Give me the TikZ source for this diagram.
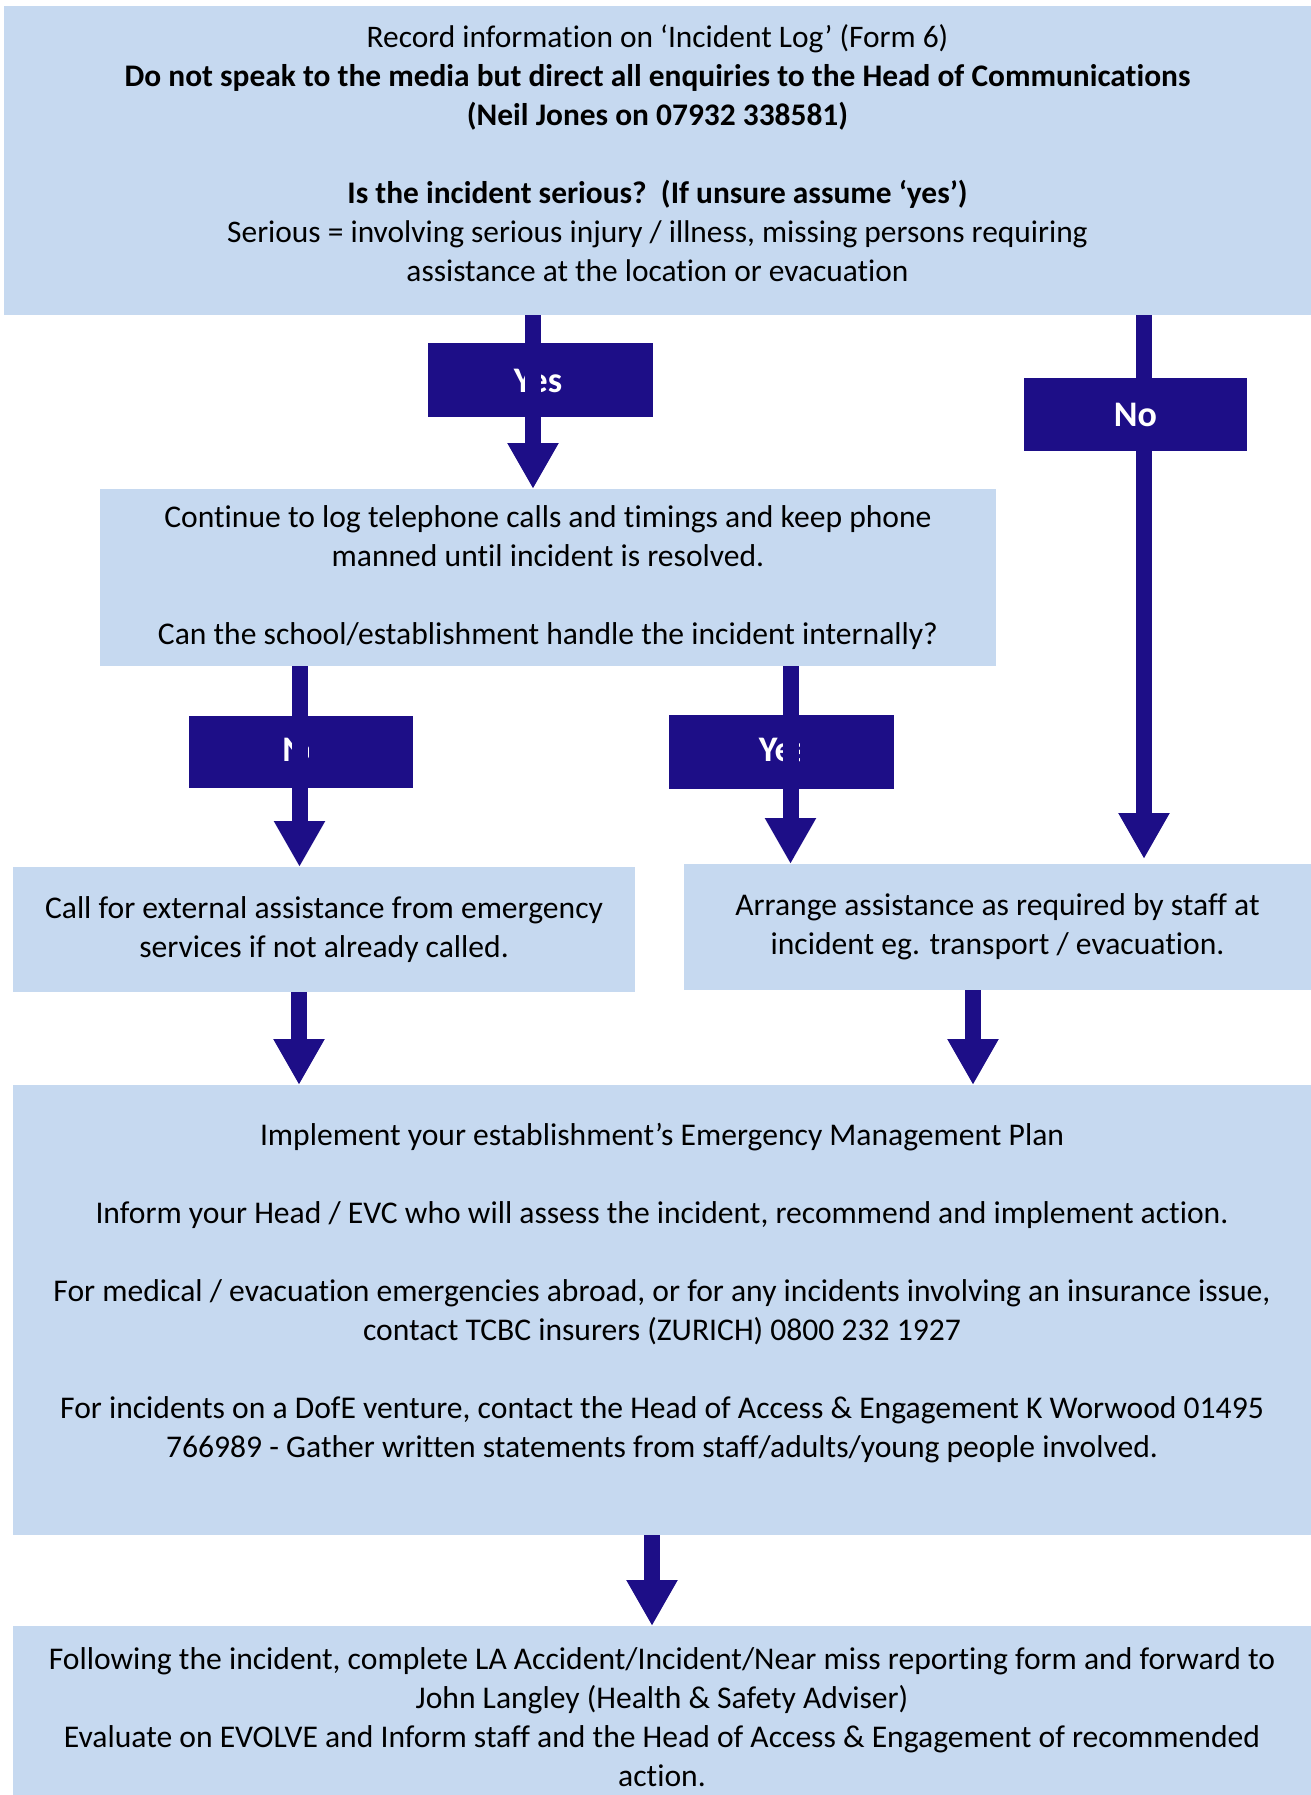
\documentclass[tikz,border=0pt]{standalone}
\usepackage{fontspec}
\setmainfont{Carlito}[Ligatures=NoCommon]
\usetikzlibrary{arrows.meta}
\definecolor{boxblue}{RGB}{198,217,240}
\definecolor{navy}{RGB}{29,14,135}

\begin{document}
\begin{tikzpicture}[x=0.5pt,y=-0.5pt]
	\tikzset{box/.style = {fill=boxblue,inner sep=0pt,outer sep=0pt,align=center,
			font=\fontsize{15.8}{19.5}\selectfont}}
	\tikzset{tag/.style = {fill=navy,inner sep=0pt,outer sep=0pt,
			minimum width=112.5pt,minimum height=37pt}}
	\tikzset{tagtext/.style = {text=white,inner sep=0pt,font=\fontsize{18}{20}\selectfont\bfseries}}
	\tikzset{flow/.style = {draw=navy,line width=8pt,-{Triangle[length=23pt,width=24pt]},navy}}
    \useasboundingbox (0,0) rectangle (1311,1795);
    % boxes
    \node[box,minimum width=653.5pt,minimum height=154.5pt,font=\fontsize{15.7}{19.5}\selectfont]
    	(top) at (657.5,160.5) {Record information on ‘Incident Log’ (Form 6)\\
    	\textbf{Do not speak to the media but direct all enquiries to the Head of Communications}\\
    	\textbf{(Neil Jones on 07932 338581)}\\ \mbox{}\\
    	\textbf{Is the incident serious?\ \ (If unsure assume ‘yes’)}\\
    	Serious = involving serious injury / illness, missing persons requiring\\
    	assistance at the location or evacuation\\[-12pt]\mbox{}};
    \node[box,minimum width=448pt,minimum height=88.5pt] (cont) at (548,577.5)
    	{Continue to log telephone calls and timings and keep phone\\
    	manned until incident is resolved.\\ \mbox{}\\
    	Can the school/establishment handle the incident internally?};
    \node[box,minimum width=311pt,minimum height=62.5pt] (call) at (324,929.5)
    	{Call for external assistance from emergency\\ services if not already called.};
    \node[box,minimum width=313.5pt,minimum height=63pt] (arr) at (997.5,927)
    	{Arrange assistance as required by staff at\\ incident eg. transport / evacuation.};
    \node[box,minimum width=649pt,minimum height=225pt] (plan) at (662,1310)
    	{Implement your establishment’s Emergency Management Plan\\ \mbox{}\\
    	Inform your Head / EVC who will assess the incident, recommend and implement action.\\ \mbox{}\\
    	For medical / evacuation emergencies abroad, or for any incidents involving an insurance issue,\\
    	contact TCBC insurers (ZURICH) 0800 232 1927\\ \mbox{}\\
    	For incidents on a DofE venture, contact the Head of Access \& Engagement K Worwood 01495\\
    	766989 - Gather written statements from staff/adults/young people involved.\\ \mbox{}};
    \node[box,minimum width=649pt,minimum height=91pt] (after) at (662,1717)
    	{Following the incident, complete LA Accident/Incident/Near miss reporting form and forward to\\
    	John Langley (Health \& Safety Adviser)\\
    	Evaluate on EVOLVE and Inform staff and the Head of Access \& Engagement of recommended\\
    	action.};
    % arrow lines
    \coordinate (x1) at (533,0);
    \coordinate (x2) at (1144,0);
    \coordinate (x3) at (299.5,0);
    \coordinate (x4) at (790.5,0);
    \coordinate (x5) at (299,0);
    \coordinate (x6) at (973,0);
    \coordinate (x7) at (652,0);
    % labels and edges
    \node[tag] (yes1) at (540.5,380) {};
    \node[tagtext] (yes1t) at (538,381) {Yes};
    \draw[flow] (x1 |- top.south) -- (x1 |- cont.north);
    \draw[flow,shorten >=2.5pt] (x2 |- top.south) -- (x2 |- arr.north);
    \node[tag,minimum width=111.5pt,minimum height=36.5pt] (no1) at (1135.5,414.5) {};
    \node[tagtext] (no1t) at (no1) {No};
    \node[tag,minimum width=112pt,minimum height=36pt] (no2) at (301,752) {};
    \node[tag] (yes2) at (781.5,752) {};
    \begin{scope}
    	\clip (no2.north west) rectangle (308,788);
    	\node[tagtext] (no2t) at (304,750) {No};
    \end{scope}
    \begin{scope}
    	\clip (yes2.north west) rectangle (799,789);
    	\node[tagtext] (yes2t) at (783,750) {Yes};
    \end{scope}
    \draw[flow] (x3 |- cont.south) -- (x3 |- call.north);
    \draw[flow] (x4 |- cont.south) -- (x4 |- arr.north);
    \draw[flow] (x5 |- call.south) -- (x5 |- plan.north);
    \draw[flow] (x6 |- arr.south) -- (x6 |- plan.north);
    \draw[flow] (x7 |- plan.south) -- (x7 |- after.north);
\end{tikzpicture}
\end{document}
